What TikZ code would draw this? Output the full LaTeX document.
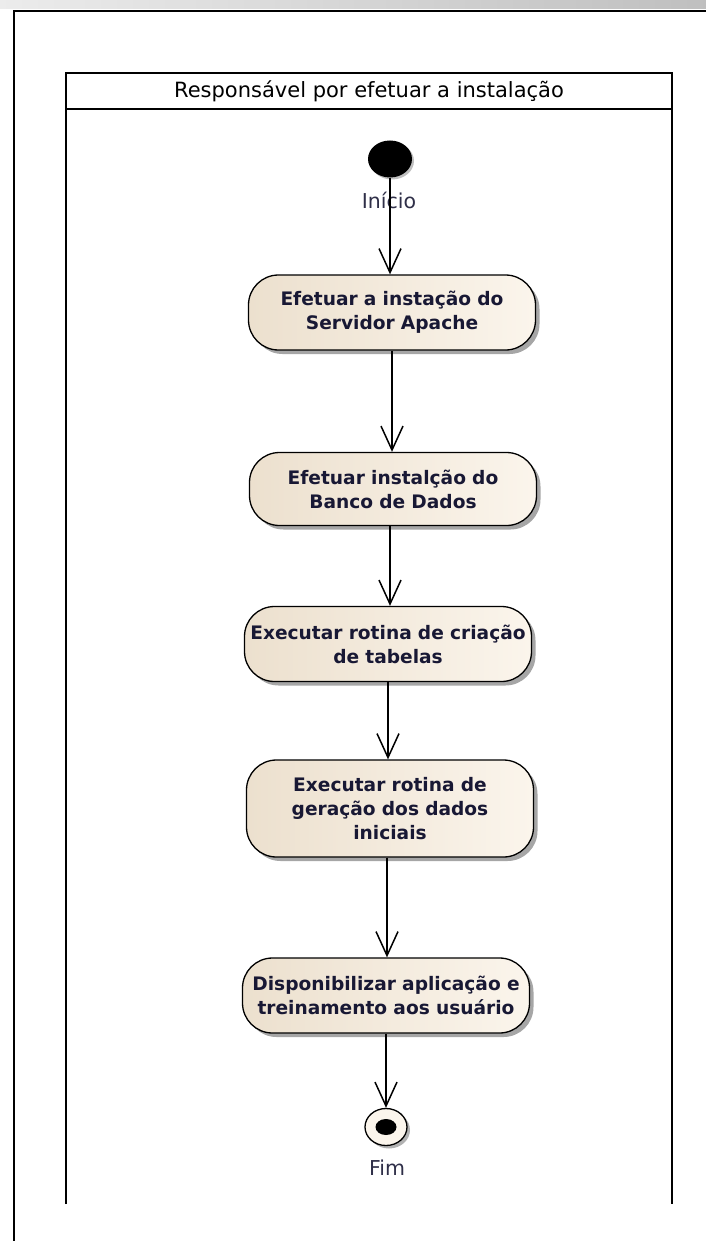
\documentclass[tikz,border=0pt]{standalone}
\usepackage{fontspec}
\setmainfont{DejaVu Sans}
\usetikzlibrary{arrows.meta,shapes.geometric,shadows}
\definecolor{txt}{RGB}{24,24,52}
\definecolor{boxL}{RGB}{236,224,206}
\definecolor{boxR}{RGB}{251,245,236}
\begin{document}
\begin{tikzpicture}[x=1pt,y=-1pt,
  act/.style={draw=black, line width=1.3pt, rounded corners=30pt,
    left color=boxL, right color=boxR,
    minimum width=287pt, minimum height=75pt, text width=284pt,
    inner sep=0pt, align=center, text=txt,
    font=\fontsize{18.6}{24}\selectfont\bfseries,
    drop shadow={shadow xshift=4pt, shadow yshift=-4pt, fill=black, opacity=0.35}},
  flow/.style={line width=1.5pt, -{Straight Barb[length=24pt,width=22pt,line width=1.5pt]}},
  lbl/.style={text=txt!90, font=\fontsize{20.5}{24}\selectfont, inner sep=0pt},
  frame/.style={line width=2pt}
]
\useasboundingbox (0,0) rectangle (706,1241);
\fill[left color=gray!15, right color=gray!50] (0,0) rectangle (706,9);
% outer frame
\draw[frame] (14,1241) -- (14,11.5) -- (706,11.5);
% swimlane
\draw[frame] (66,1204) -- (66,73) -- (672,73) -- (672,1204);
\draw[frame] (66,109) -- (672,109);
\node[font=\fontsize{21}{24}\selectfont, text=black, inner sep=0pt] (hdr) at (369,91) {Responsável por efetuar a instalação};

% start
\node[ellipse, fill=black, minimum width=44pt, minimum height=37pt, inner sep=0pt,
  drop shadow={shadow xshift=2pt, shadow yshift=-2pt, fill=black, opacity=0.25}] (start) at (390,159) {};
\node[lbl] (ini) at (389,200) {Início};

% activities
\node[act] (b1) at (392,312.5) {Efetuar a instação do\\Servidor Apache};
\node[act, minimum height=73pt] (b2) at (393,489) {Efetuar instalção do\\Banco de Dados};
\node[act] (b3) at (388,644) {Executar rotina de criação\\de tabelas};
\node[act, minimum height=97pt] (b4) at (390,808.5) {Executar rotina de\\geração dos dados\\iniciais};
\node[act] (b5) at (386,995.5) {Disponibilizar aplicação e\\treinamento aos usuário};

% end
\node[ellipse, draw=black, line width=1.3pt, fill=boxR, minimum width=42pt, minimum height=37pt, inner sep=0pt,
  drop shadow={shadow xshift=3pt, shadow yshift=-3pt, fill=black, opacity=0.3}] (fim) at (386,1127) {};
\node[ellipse, fill=black, minimum width=21pt, minimum height=16pt, inner sep=0pt] (fimdot) at (fim.center) {};
\node[lbl] (fimlbl) at (387,1168) {Fim};

% flows
\draw[flow] (start.south) -- (start.south |- b1.north);
\draw[flow] (b1.south) -- (b1.south |- b2.north);
\draw[flow] (b2.south) ++(-3,0) coordinate (s2) -- (s2 |- b3.north);
\draw[flow] (b3.south) -- (b3.south |- b4.north);
\draw[flow] (b4.south) ++(-3,0) coordinate (s4) -- (s4 |- b5.north);
\draw[flow] (b5.south) -- (b5.south |- fim.north);
\end{tikzpicture}
\end{document}
